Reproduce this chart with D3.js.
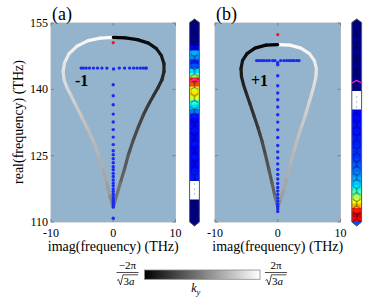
<!DOCTYPE html>
<html><head><meta charset="utf-8">
<script src="https://cdn.jsdelivr.net/npm/d3@7"></script>
<style>
body{margin:0;background:#fff;}
svg{display:block;}
text{font-family:"Liberation Serif","Times New Roman",serif;fill:#000;}
</style>
</head><body>
<svg id="c" width="381" height="298"></svg>
<script>
// ---------------- DATA ----------------
const xTicks = [-10, 0, 10];
const yTicks = [110, 125, 140, 155];
const panelLabels = ["(a)", "(b)"];
const modeLabels = ["-1", "+1"];
const xTitle = "imag(frequency) (THz)";
const yTitle = "real(frequency) (THz)";

// |k_y| (normalised) along each branch, from top of loop to the tip
const kyMag = [1, 0.97, 0.94, 0.9, 0.86, 0.82, 0.78, 0.74, 0.7, 0.66, 0.6, 0.55, 0.5, 0.45, 0.4, 0.34, 0.28, 0.2, 0];

// panel (a): dark branch (k_y<0, right) and light branch (k_y>0, left)
const aDarkImag = [0, 1.94, 3.87, 5.65, 6.94, 7.74, 8.15, 8.15, 7.82, 7.18, 6.45, 5.65, 4.84, 4.03, 3.23, 2.42, 1.77, 1.13, 0];
const aDarkReal = [151.74, 151.65, 151.24, 150.45, 149.2, 147.61, 145.8, 143.99, 142.17, 140.36, 138.55, 136.51, 134.24, 131.52, 128.58, 125.18, 121.78, 118.83, 113.39];
const aLightImag = [0, -2.1, -4.03, -5.81, -7.1, -7.82, -8.06, -7.9, -7.42, -6.77, -5.97, -5.0, -4.03, -3.06, -2.26, -1.61, -1.05, -0.56, 0];
const aLightReal = [151.74, 151.58, 151.01, 149.77, 148.07, 146.03, 143.99, 142.17, 140.36, 138.55, 136.28, 133.56, 130.84, 127.9, 124.73, 121.78, 118.83, 115.88, 113.39];

// panel (b): dark branch (left) and light branch (right)
const bDarkImag = [0, -1.88, -3.63, -4.9, -5.62, -5.86, -5.78, -5.46, -4.98, -4.43, -3.79, -3.15, -2.83, -2.52, -1.96, -1.4, -0.92, -0.45, 0];
const bDarkReal = [150.11, 149.99, 149.31, 148.07, 146.48, 144.67, 142.85, 141.04, 139.0, 136.74, 134.02, 131.3, 129.82, 128.35, 125.18, 121.78, 118.83, 115.88, 113.39];
const bLightImag = [0, 1.94, 3.69, 5.05, 5.84, 6.16, 6.08, 5.76, 5.37, 4.89, 4.33, 3.69, 3.06, 2.5, 1.94, 1.39, 0.83, 0.35, 0];
const bLightReal = [150.11, 149.99, 149.31, 148.07, 146.48, 144.67, 142.85, 140.81, 138.78, 136.51, 133.79, 131.07, 128.35, 125.63, 122.69, 119.74, 116.8, 114.76, 113.39];

// eigenfrequency points (blue)
const aDotsImag = [-5.16, -4.8, -4.35, -3.82, -3.18, -2.53, -1.82, -1.02, 0.05, 0.97, 1.82, 2.63, 3.27, 3.82, 4.35, 4.79, 5.16, 5.32,
  0,0,0,0,0,0,0,0,0,0,0,0,0,0,0,0,0,0,0,0,0,0,0,0,0,0,0,0,0];
const aDotsReal = [144.8,144.8,144.8,144.8,144.8,144.8,144.8,144.8,144.6,144.8,144.8,144.8,144.8,144.8,144.8,144.8,144.8,144.8,
  141.04,138.55,136.5,134.4,132.6,130.9,129.2,127.5,126.1,125.2,124.3,123.4,122.5,121.8,121.0,120.3,119.5,118.8,118.2,117.5,116.9,116.3,115.7,115.2,114.8,114.3,113.85,113.4,110.85];
const bDotsImag = [-3.36,-2.95,-2.56,-2.2,-1.77,-1.35,-0.81,-0.45,0,0.46,0.99,1.42,1.83,2.21,2.58,3.01,3.38,
  0,0,0,0,0,0,0,0,0,0,0,0,0,0,0,0,0,0,0,0,0,0,0,0,0,0,0];
const bDotsReal = [146.5,146.5,146.5,146.5,146.5,146.5,146.5,146.5,146.0,146.5,146.5,146.5,146.5,146.5,146.5,146.5,146.5,
  145.57,143.08,140.81,139.16,137.64,135.99,134.24,132.59,130.84,129.1,127.29,125.86,124.5,123.14,121.89,120.76,119.74,118.72,117.81,117.02,116.23,115.44,114.76,114.07,113.51,112.94,112.38];

// highlighted mode (red)
const aRed = [0, 150.56];
const bRed = [0, 152.37];

// field-intensity strips (normalised, null = no field shown)
const stripA = [0,0,0.01,0,0.01,0.03,0.13,0.3,0.26,0.16,0.2,0.34,0.5,0.85,0.8,0.6,0.65,0.6,0.42,0.34,0.24,
  0.15,0.13,0.13,0.14,0.13,0.13,0.14,0.13,0.13,0.14,0.13,0.13,0.14,0.15,0.15,null,null,null,null,0,0.01,0,0.01,0,0.02];
const stripB = [0,0,0.01,0,0.02,0,0.01,0.02,0,0.01,0.02,0,0.01,0.01,0,0.01,null,null,null,null,
  0.13,0.13,0.13,0.14,0.14,0.14,0.15,0.15,0.16,0.17,0.17,0.19,0.21,0.23,0.26,0.29,0.32,0.37,0.45,0.55,0.62,0.7,0.85,0.92,0.88,0.2];

// ---------------- DRAW ----------------
const svg = d3.select("#c");
const defs = svg.append("defs");
const BG = "#94b3cd";

function jet(v){
  const c = t => Math.max(0, Math.min(1, t));
  return d3.rgb(255*c(1.5-Math.abs(4*v-3)), 255*c(1.5-Math.abs(4*v-2)), 255*c(1.5-Math.abs(4*v-1))).toString();
}
const gray = d3.scaleLinear().domain([-1, 1]).range(["#000", "#fff"]);

function panel(opt){
  const x = d3.scaleLinear().domain([-10, 10]).range([opt.x0, opt.x1]);
  const y = d3.scaleLinear().domain([110, 155]).range([222, 23]);
  const g = svg.append("g");
  g.append("rect").attr("x", opt.x0).attr("y", 23).attr("width", opt.x1-opt.x0).attr("height", 199)
    .attr("fill", BG).attr("stroke", "#a6b0ba").attr("stroke-width", 0.8);
  const tk = g.append("g").attr("stroke", "#6a7682").attr("stroke-width", 0.8);
  xTicks.forEach(t => {
    tk.append("line").attr("x1", x(t)).attr("x2", x(t)).attr("y1", 222).attr("y2", 219);
    tk.append("line").attr("x1", x(t)).attr("x2", x(t)).attr("y1", 23).attr("y2", 26);
  });
  yTicks.forEach(t => {
    tk.append("line").attr("x1", opt.x0).attr("x2", opt.x0+3).attr("y1", y(t)).attr("y2", y(t));
    tk.append("line").attr("x1", opt.x1).attr("x2", opt.x1-3).attr("y1", y(t)).attr("y2", y(t));
  });
  xTicks.forEach(t => g.append("text").attr("x", x(t)).attr("y", 237).attr("text-anchor", "middle")
    .attr("font-size", 12).text(t));
  if (opt.yLabels) yTicks.forEach(t => g.append("text").attr("x", opt.x0-3).attr("y", y(t)+4)
    .attr("text-anchor", "end").attr("font-size", 12).text(t));
  g.append("text").attr("x", x(0)).attr("y", 251).attr("text-anchor", "middle").attr("font-size", 14).text(xTitle);
  g.append("text").attr("x", opt.x0+1).attr("y", 20).attr("font-size", 18).text(opt.label);

  const clipId = "clip" + opt.label.replace(/\W/g, "");
  defs.append("clipPath").attr("id", clipId).append("rect")
    .attr("x", opt.x0).attr("y", 23).attr("width", opt.x1-opt.x0).attr("height", 199);
  const cg = g.append("g").attr("clip-path", `url(#${clipId})`);
  function branch(imag, real, sign){
    for (let i = 0; i < imag.length-1; i++){
      const k = sign * (kyMag[i] + kyMag[i+1]) / 2;
      cg.append("line")
        .attr("x1", x(imag[i])).attr("y1", y(real[i]))
        .attr("x2", x(imag[i+1])).attr("y2", y(real[i+1]))
        .attr("stroke", gray(k)).attr("stroke-width", 3.2).attr("stroke-linecap", "round");
    }
  }
  branch(opt.lightImag, opt.lightReal, 1);
  branch(opt.darkImag, opt.darkReal, -1);

  cg.selectAll(".dot").data(opt.dotsImag.map((v, i) => [v, opt.dotsReal[i]])).enter().append("circle")
    .attr("cx", d => x(d[0])).attr("cy", d => y(d[1])).attr("r", 1.7).attr("fill", "#1a2cf0");
  cg.append("circle").attr("cx", x(opt.red[0])).attr("cy", y(opt.red[1])).attr("r", 1.6).attr("fill", "#f01818");

  g.append("text").attr("x", opt.modeX).attr("y", 86).attr("font-size", 16).attr("font-weight", "bold").text(opt.mode);
}

panel({x0: 51, x1: 175.5, label: panelLabels[0], mode: modeLabels[0], modeX: 75, yLabels: true,
  darkImag: aDarkImag, darkReal: aDarkReal, lightImag: aLightImag, lightReal: aLightReal,
  dotsImag: aDotsImag, dotsReal: aDotsReal, red: aRed});
panel({x0: 215, x1: 340.5, label: panelLabels[1], mode: modeLabels[1], modeX: 251, yLabels: false,
  darkImag: bDarkImag, darkReal: bDarkReal, lightImag: bLightImag, lightReal: bLightReal,
  dotsImag: bDotsImag, dotsReal: bDotsReal, red: bRed});

svg.append("text").attr("transform", "translate(23,122) rotate(-90)").attr("text-anchor", "middle")
  .attr("font-size", 14).text(yTitle);

// hex pattern
const r = 4.4, W = Math.sqrt(3)*r, H = 3*r;
const pat = defs.append("pattern").attr("id", "hex").attr("patternUnits", "userSpaceOnUse")
  .attr("width", W).attr("height", H);
function hexPath(cx, cy){
  const pts = d3.range(6).map(i => { const a = Math.PI/3*i + Math.PI/6; return [cx + r*Math.cos(a), cy + r*Math.sin(a)]; });
  return "M" + pts.map(p => p.join(",")).join("L") + "Z";
}
[[0,0],[W,0],[W/2,H/2],[0,H],[W,H]].forEach(c => pat.append("path").attr("d", hexPath(c[0], c[1]))
  .attr("fill", "none").attr("stroke", "rgba(0,0,40,0.4)").attr("stroke-width", 0.8));

function strip(id, sx, values, magY, dotsY){
  const w = 9.8, top = 19, bot = 226;
  const band = d3.scaleBand().domain(d3.range(values.length)).range([top, bot]);
  const shape = [[sx, top+3.5],[sx+w/2, top],[sx+w, top+3.5],[sx+w, bot-4],[sx+w/2, bot],[sx, bot-4]];
  defs.append("clipPath").attr("id", id).append("path").attr("d", "M" + shape.join("L") + "Z");
  const g = svg.append("g").attr("clip-path", `url(#${id})`);
  g.selectAll("rect").data(values).enter().append("rect")
    .attr("x", sx).attr("width", w).attr("y", (d, i) => band(i)).attr("height", band.bandwidth()+0.5)
    .attr("fill", d => d === null ? "#fff" : jet(d));
  g.append("g").attr("transform", `translate(${sx+w/2-W/2},${top})`)
    .append("rect").attr("x", 0).attr("y", 0).attr("width", W).attr("height", bot-top).attr("fill", "url(#hex)");
  values.forEach((d, i) => { if (d === null) g.append("rect").attr("x", sx).attr("width", w)
    .attr("y", band(i)).attr("height", band.bandwidth()+0.5).attr("fill", "#fff"); });
  dotsY.forEach(yy => g.append("circle").attr("cx", sx+w/2).attr("cy", yy).attr("r", 0.7).attr("fill", "#8ab0e8"));
  g.append("path").attr("d", `M${sx},${magY+2.5}L${sx+w/2},${magY}L${sx+w},${magY+2.5}`)
    .attr("fill", "none").attr("stroke", "#ff22ee").attr("stroke-width", 1.3);
  svg.append("path").attr("d", "M" + shape.join("L") + "Z").attr("fill", "none")
    .attr("stroke", "#4b5563").attr("stroke-width", 1);
}
strip("sA", 189.6, stripA, 79, [184, 189, 194]);
strip("sB", 351.8, stripB, 80.5, [97, 102, 107]);

// colour bar
const grad = defs.append("linearGradient").attr("id", "kg");
grad.append("stop").attr("offset", "0%").attr("stop-color", gray(-1));
grad.append("stop").attr("offset", "100%").attr("stop-color", gray(1));
const cbx = d3.scaleLinear().domain([-1, 1]).range([144.5, 260]);
svg.append("rect").attr("x", cbx(-1)).attr("y", 270).attr("width", cbx(1)-cbx(-1)).attr("height", 9.3)
  .attr("fill", "url(#kg)").attr("stroke", "#8a8a8a").attr("stroke-width", 0.8);
svg.append("line").attr("x1", cbx(0)).attr("x2", cbx(0)).attr("y1", 279.3).attr("y2", 276.5)
  .attr("stroke", "#777").attr("stroke-width", 0.8);
const kt = svg.append("text").attr("x", cbx(0)-11).attr("y", 292).attr("font-size", 12).attr("font-style", "italic");
kt.append("tspan").text("k");
kt.append("tspan").attr("font-size", 8.5).attr("dy", 2.5).text("y");

function fraction(cx, num){
  svg.append("text").attr("x", cx).attr("y", 268.5).attr("text-anchor", "middle").attr("font-size", 11).text(num);
  svg.append("line").attr("x1", cx-11).attr("x2", cx+11).attr("y1", 272.5).attr("y2", 272.5)
    .attr("stroke", "#000").attr("stroke-width", 0.7);
  svg.append("path").attr("d", `M${cx-10.5},${280.5}L${cx-9},${279.5}L${cx-7},${285}L${cx-4.5},${274.8}L${cx+10.5},${274.8}`)
    .attr("fill", "none").attr("stroke", "#000").attr("stroke-width", 0.7);
  const t = svg.append("text").attr("x", cx-4).attr("y", 284.5).attr("font-size", 11);
  t.append("tspan").text("3");
  t.append("tspan").attr("font-style", "italic").text("a");
}
fraction(127.5, "\u22122\u03c0");
fraction(276, "2\u03c0");
</script>
</body></html>
